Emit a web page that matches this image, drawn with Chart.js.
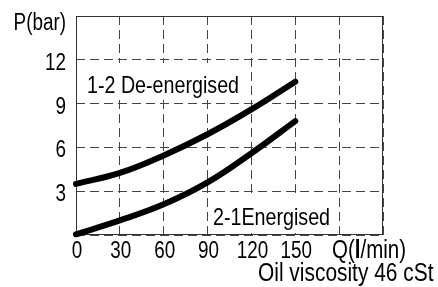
<!DOCTYPE html>
<html>
<head>
<meta charset="utf-8">
<script src="https://cdn.jsdelivr.net/npm/chart.js@4/dist/chart.umd.min.js"></script>
<style>
  html, body { margin: 0; padding: 0; background: #fff; }
  #wrap { width: 438px; height: 287px; position: relative; }
</style>
</head>
<body>
<div id="wrap"><canvas id="c"></canvas></div>
<script>
const vazao = [0, 30, 60, 90, 120, 150];
const pDesenergizado = [3.5, 4.25, 5.45, 6.9, 8.6, 10.5];
const pEnergizado = [0.05, 1.0, 2.1, 3.6, 5.6, 7.8];
const xRotulos = [0, 30, 60, 90, 120, 150];
const yRotulos = [3, 6, 9, 12];

const FONTE = '"Liberation Sans", Arial, sans-serif';
const ESTREITO = 0.82; // a fonte do original é condensada
const pontos = (ys) => vazao.map((x, i) => ({ x, y: ys[i] }));

// texto comprimido na horizontal
function texto(ctx, t, x, y, tam, alinh, negrito) {
  ctx.save();
  ctx.translate(x, y);
  ctx.scale(ESTREITO, 1);
  ctx.font = (negrito ? 'bold ' : '') + tam + 'px ' + FONTE;
  ctx.textAlign = alinh || 'left';
  ctx.textBaseline = 'alphabetic';
  ctx.fillStyle = '#000';
  ctx.fillText(t, 0, 0);
  const w = ctx.measureText(t).width * ESTREITO;
  ctx.restore();
  return w;
}

// moldura sólida, caixas dos rótulos e textos avulsos
const extras = {
  id: 'extras',
  beforeDatasetsDraw(chart) {
    const { ctx, chartArea: a } = chart;
    ctx.save();
    ctx.fillStyle = '#fff';
    ctx.fillRect(79, 63, 166, 37);
    ctx.fillRect(211, 196, 124, 37);
    ctx.strokeStyle = '#333';
    ctx.lineWidth = 1;
    ctx.setLineDash([]);
    ctx.strokeRect(a.left + 0.5, a.top + 0.5, a.right - a.left - 1, a.bottom - a.top - 1);
    ctx.restore();
    texto(ctx, '1-2 De-energised', 87, 93, 24);
    texto(ctx, '2-1Energised', 213, 225, 24);
    texto(ctx, 'P(bar)', 66, 30, 23, 'right');
  },
  afterDraw(chart) {
    const { ctx, scales } = chart;
    for (const v of xRotulos) texto(ctx, String(v), scales.x.getPixelForValue(v) + 1, 258, 23, 'center');
    for (const v of yRotulos) texto(ctx, String(v), 66, scales.y.getPixelForValue(v) + 10, 23, 'right');
    let x = 332;
    x += texto(ctx, 'Q(', x, 258, 25);
    x += texto(ctx, 'l', x, 258, 25, 'left', true);
    texto(ctx, '/min)', x, 258, 25);
    texto(ctx, 'Oil viscosity 46 cSt', 258, 281, 25.5);
  }
};

const linha = (ys) => ({
  data: pontos(ys),
  borderColor: '#000',
  borderWidth: 6,
  borderCapStyle: 'round',
  pointRadius: 0,
  tension: 0.4,
  fill: false,
  clip: false,
});

new Chart(document.getElementById('c'), {
  type: 'line',
  data: { datasets: [linha(pDesenergizado), linha(pEnergizado)] },
  options: {
    responsive: true,
    maintainAspectRatio: false,
    animation: false,
    layout: { padding: { top: 16, right: 55, left: 0, bottom: 0 } },
    plugins: { legend: { display: false }, tooltip: { enabled: false } },
    scales: {
      x: {
        type: 'linear', min: 0, max: 210,
        afterFit: (s) => { s.height = 52; },
        grid: { color: '#444', lineWidth: 1, drawTicks: false },
        border: { display: false, dash: [9, 5] },
        ticks: { stepSize: 30, autoSkip: false, display: false },
      },
      y: {
        min: 0, max: 15,
        afterFit: (s) => { s.width = 76; },
        grid: { color: '#444', lineWidth: 1, drawTicks: false },
        border: { display: false, dash: [9, 5] },
        ticks: { stepSize: 3, display: false },
      },
    },
  },
  plugins: [extras],
});
</script>
</body>
</html>
